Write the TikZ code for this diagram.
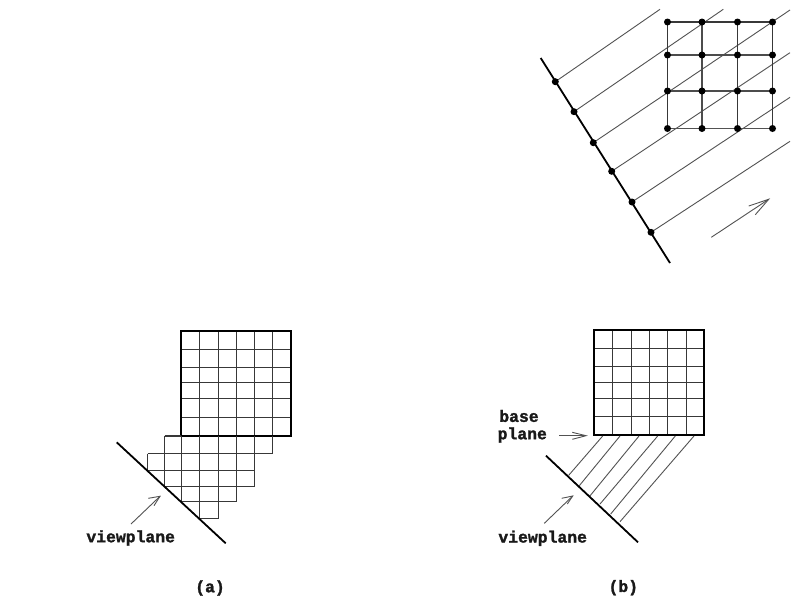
\documentclass[tikz,border=0pt]{standalone}
\usepackage{fontspec}
\setmainfont[FakeBold=1.5]{Liberation Mono}
\tikzset{
  gridline/.style={draw=black!78,line width=1.1pt},
  gridbold/.style={draw=black!70,line width=2pt},
  thinline/.style={draw=black!68,line width=0.9pt},
  plane/.style={draw=black,line width=1.8pt},
  frame/.style={draw=black,line width=2pt},
  ptdot/.style={fill=black,circle,inner sep=0pt,minimum size=7pt},
  lab/.style={inner sep=0pt,font=\bfseries\fontsize{16.4}{16.4}\selectfont,text=black!90}
}
\begin{document}
\begin{tikzpicture}[x=1pt,y=-1pt]
\useasboundingbox (0,0) rectangle (804,606);
\fill[white] (0,0) rectangle (804,606);
% --- top: rays
\draw[plane] (540.7,58) -- (670,263);
\foreach \a/\b/\c/\d in {555.3/81.7/660/9.3,574/111.7/723.3/9.3,593.3/142.7/790/10,611.7/171.3/790/52.7,632/202/790/97.3,651/232.3/790/141.3}{
  \draw[thinline] (\a,\b) -- (\c,\d);
  \node[ptdot] at (\a,\b) {};
}
% top grid
\foreach \x in {667.5,737.5,772.5}{\draw[gridline] (\x,22) -- (\x,128.5);}
\draw[gridbold] (702,22) -- (702,128.5);
\draw[gridline] (667.5,22) -- (772.5,22);
\draw[gridbold] (667.5,55) -- (772.5,55);
\draw[gridbold] (667.5,91) -- (772.5,91);
\draw[thinline] (667.5,128.5) -- (772.5,128.5);
\foreach \x in {667.5,702,737.5,772.5}{\foreach \y in {22,55,91,128.5}{\node[ptdot] at (\x,\y) {};}}
% direction arrow
\draw[thinline] (711.3,237.3) -- (768.7,199.3);
\draw[thinline] (748.7,206) -- (768.7,199.3) -- (755.3,214.7);
% --- (a)
\foreach \x in {199.5,218.5,236.5,254.5,272.5}{\draw[gridline] (\x,330.7) -- (\x,436);}
\foreach \y in {349.5,367.5,382.5,398.5,417.5}{\draw[gridline] (181,\y) -- (290.7,\y);}
\draw[frame] (181,331) rectangle (291,436);
\foreach \ya/\xa/\xb in {436/164.5/181,453.5/147.5/272.5,470.5/147.5/254.5,486.5/164.5/254.5,501.5/181/236.5,518.5/199.5/218.5}{
  \draw[gridline] (\xa,\ya) -- (\xb,\ya);}
\foreach \x/\ya/\yb in {147.5/453.5/470.5,164.5/436/486.5,181.5/436/501.5,199.5/436/518.5,218.5/436/518.5,236.5/436/501.5,254.5/436/486.5,272.5/436/453.5}{
  \draw[gridline] (\x,\ya) -- (\x,\yb);}
\draw[plane] (116.7,442.3) -- (225.7,543.3);
\draw[thinline] (131,524) -- (160,496.3);
\draw[thinline] (148.3,498.3) -- (160,496.3) -- (154,505.7);
\node[lab] (vpa) at (130.7,538) {viewplane};
\node[lab] (capa) at (210,588) {(a)};
% --- (b)
\foreach \x in {612.5,631.5,649.5,667.5,686.5}{\draw[gridline] (\x,330) -- (\x,435.3);}
\foreach \y in {348.5,366.5,382.5,398.5,416.5}{\draw[gridline] (594.3,\y) -- (704.3,\y);}
\draw[frame] (594,330) rectangle (704,435);
\foreach \a/\b/\c/\d in {602.7/436/568.7/475.3,620/436/579.3/485.7,639/436/589.3/496.7,657.7/436/600/504,675.3/436/610.7/514,694/436/620/521.7}{
  \draw[thinline] (\a,\b) -- (\c,\d);}
\draw[plane] (546,455.7) -- (638,542.3);
\draw[thinline] (559,435.7) -- (586,435.7);
\draw[thinline] (572.3,432.3) -- (586,435.7) -- (572.3,439.3);
\draw[thinline] (544.3,523.3) -- (572.7,496);
\draw[thinline] (561.7,498.3) -- (572.7,496) -- (567.3,504);
\node[lab] (basel) at (519,416) {base};
\node[lab] (planel) at (522.3,435) {plane};
\node[lab] (vpb) at (542.7,538.3) {viewplane};
\node[lab] (capb) at (623.3,587.7) {(b)};
\end{tikzpicture}
\end{document}
